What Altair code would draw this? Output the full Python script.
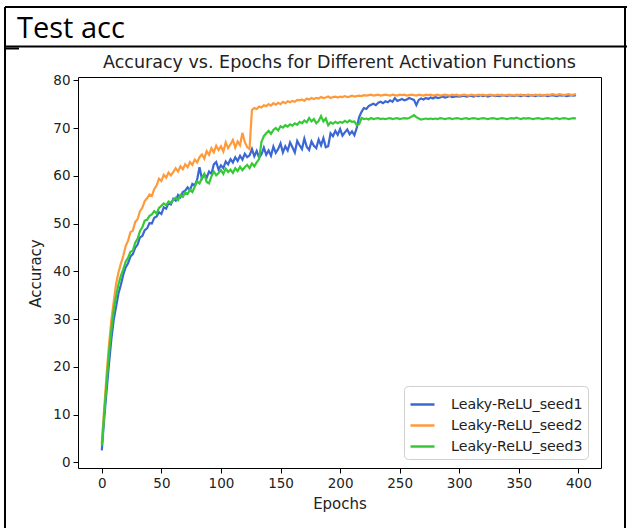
import altair as alt
import pandas as pd

# Test accuracy per epoch (sampled every 2 epochs) for three Leaky-ReLU seeds
epochs = list(range(0, 400, 2))

seed1 = [
    2.5, 9.2, 15.0, 20.6, 25.8, 29.9, 32.6, 35.4, 37.2, 39.3,
    40.8, 41.7, 43.1, 43.6, 44.9, 45.6, 47.1, 47.4, 48.6, 49.0,
    50.1, 50.0, 51.2, 51.5, 52.4, 52.0, 53.4, 53.1, 54.3, 54.0,
    55.2, 54.8, 56.0, 55.5, 56.6, 56.9, 57.6, 57.0, 58.3, 58.0,
    59.2, 61.8, 59.4, 60.3, 59.6, 60.9, 60.4, 62.4, 62.9, 61.3,
    62.2, 61.6, 63.0, 62.4, 63.5, 62.8, 63.9, 63.1, 64.2, 63.4,
    64.6, 63.9, 64.3, 65.6, 64.1, 65.2, 63.8, 64.5, 65.9, 64.4,
    65.3, 64.2, 66.1, 64.8, 65.6, 66.8, 64.9, 66.2, 65.3, 67.0,
    66.0, 64.9, 67.3, 66.4, 65.6, 67.8, 66.1, 65.4, 67.2, 66.3,
    65.8, 67.6, 66.4, 67.9, 66.0, 66.2, 68.9, 68.3, 69.4, 68.6,
    69.8, 68.4, 69.1, 69.7, 68.7, 69.3, 68.5, 70.1, 72.3, 73.4,
    74.2, 74.0, 74.6, 74.9, 75.1, 74.8, 75.3, 75.5, 75.2, 75.6,
    75.4, 75.8, 75.5, 76.3, 75.7, 75.9, 76.1, 75.8, 76.0, 76.3,
    76.1, 75.9, 74.8, 75.9, 76.2, 76.0, 76.3, 76.1, 76.4, 76.2,
    76.5, 76.3, 76.4, 76.6, 76.4, 76.5, 76.7, 76.5, 76.6, 76.7,
    76.6, 76.7, 76.8, 76.6, 76.7, 76.8, 76.6, 76.8, 76.7, 76.9,
    76.7, 76.8, 76.6, 76.8, 76.9, 76.7, 76.8, 76.7, 76.9, 76.8,
    76.7, 76.9, 76.8, 76.7, 76.9, 76.8, 76.7, 76.9, 76.8, 76.7,
    76.9, 76.8, 76.7, 76.9, 76.8, 76.8, 76.9, 76.7, 76.8, 76.9,
    76.8, 76.7, 76.9, 76.8, 76.9, 76.7, 76.8, 76.9, 76.8, 76.9,
]

seed2 = [
    4.0, 11.2, 18.3, 24.6, 29.8, 33.7, 37.4, 39.8, 41.6, 43.2,
    45.3, 46.4, 48.2, 48.5, 50.3, 50.9, 52.6, 53.3, 54.7, 55.3,
    56.1, 55.8, 57.2, 58.0, 59.4, 58.9, 60.2, 59.6, 60.7, 60.1,
    60.8, 61.6, 60.9, 62.0, 61.4, 62.4, 61.8, 62.9, 62.3, 63.4,
    62.8, 63.9, 64.5, 63.6, 65.2, 64.4, 65.8, 64.9, 66.3, 65.4,
    66.2, 65.1, 67.0, 65.8, 66.6, 67.5, 65.9, 67.2, 66.4, 69.0,
    67.1, 66.0, 65.6, 73.8, 74.2, 74.0, 74.5, 74.3, 74.8, 74.6,
    75.0, 74.7, 75.2, 74.9, 75.3, 75.0, 75.5, 75.2, 75.6, 75.4,
    75.7, 75.5, 75.9, 75.8, 76.0, 75.7, 76.2, 76.0, 76.3, 76.1,
    76.3, 76.2, 76.5, 76.3, 76.4, 76.6, 76.3, 76.5, 76.6, 76.4,
    76.6, 76.5, 76.7, 76.5, 76.6, 76.8, 76.6, 76.7, 76.8, 76.7,
    76.9, 76.8, 76.9, 77.0, 76.8, 76.9, 77.0, 76.8, 76.9, 77.0,
    76.9, 76.8, 77.0, 76.9, 76.8, 77.0, 76.9, 77.0, 76.8, 76.9,
    77.0, 76.9, 76.8, 77.0, 76.9, 76.8, 77.0, 76.9, 77.0, 76.8,
    76.9, 77.0, 76.8, 76.9, 77.0, 76.9, 76.8, 77.0, 76.9, 77.0,
    76.8, 76.9, 77.0, 76.9, 76.8, 77.0, 76.9, 76.8, 77.0, 76.9,
    77.0, 76.8, 76.9, 77.0, 76.9, 76.8, 77.0, 76.9, 77.0, 76.8,
    76.9, 77.0, 76.9, 76.8, 77.0, 76.9, 77.0, 76.8, 76.9, 77.0,
    76.9, 76.8, 77.0, 76.9, 77.0, 76.8, 76.9, 77.0, 76.9, 77.1,
    77.0, 76.9, 77.1, 77.0, 76.9, 77.0, 77.1, 76.9, 77.0, 77.1,
]

seed3 = [
    3.5, 10.3, 16.8, 22.9, 27.8, 31.9, 34.8, 37.3, 39.1, 40.4,
    42.0, 42.8, 44.1, 44.3, 46.0, 46.8, 48.4, 49.2, 50.6, 50.8,
    51.6, 51.9, 52.6, 52.1, 53.3, 53.7, 54.2, 53.8, 54.6, 54.3,
    55.0, 55.4, 54.9, 56.0, 55.6, 56.5, 56.2, 57.1, 56.6, 57.7,
    58.8, 58.4, 59.6, 60.4, 58.7, 58.4, 59.9, 60.9, 60.1, 60.6,
    61.2, 60.4, 61.5, 60.8, 61.3, 60.6, 61.6, 61.0, 61.9, 61.2,
    61.8, 62.3, 61.6, 62.6, 62.0, 62.8, 63.5, 67.1, 68.3, 68.9,
    69.4, 68.8, 69.6, 70.0, 69.5, 70.4, 70.1, 70.6, 70.3, 70.8,
    70.5, 71.0, 70.7, 71.3, 71.0, 71.6, 71.2, 72.1, 71.4, 71.9,
    71.0, 71.5, 72.5, 71.4, 72.0, 70.6, 71.2, 70.9, 71.3, 71.0,
    71.3, 71.1, 71.5, 71.2, 71.6, 71.3, 71.4, 70.6, 70.8, 72.1,
    71.9, 72.0, 71.8, 72.1, 71.9, 72.0, 72.1, 71.9, 72.0, 71.9,
    72.0, 72.1, 71.9, 72.0, 72.1, 71.9, 72.0, 72.1, 72.0, 72.1,
    72.4, 72.7, 72.3, 72.0, 71.8, 71.9, 72.0, 71.9, 72.0, 71.9,
    72.0, 71.9, 72.1, 72.0, 71.9, 72.0, 72.1, 71.9, 72.0, 72.1,
    72.0, 71.9, 72.0, 72.1, 71.9, 72.0, 72.1, 72.0, 71.9, 72.0,
    72.1, 72.0, 71.9, 72.0, 72.1, 72.0, 71.9, 72.0, 72.1, 72.0,
    71.9, 72.0, 72.1, 72.0, 72.2, 72.0, 71.9, 72.1, 72.0, 72.1,
    72.0, 71.9, 72.0, 72.1, 72.0, 71.9, 72.0, 72.1, 72.0, 71.9,
    72.0, 72.1, 71.9, 72.0, 72.1, 72.0, 71.9, 72.0, 72.1, 72.0,
]

series_names = ["Leaky-ReLU_seed1", "Leaky-ReLU_seed2", "Leaky-ReLU_seed3"]
series_colors = ["#3a67d4", "#ff9a3b", "#36c936"]
x_ticks = [0, 50, 100, 150, 200, 250, 300, 350, 400]
y_ticks = [0, 10, 20, 30, 40, 50, 60, 70, 80]
plot_title = "Accuracy vs. Epochs for Different Activation Functions"
slide_caption = "Test acc"

rows = []
for name, vals in zip(series_names, [seed1, seed2, seed3]):
    for e, v in zip(epochs, vals):
        rows.append({"epoch": e, "acc": v, "run": name})
df = pd.DataFrame(rows)

FONT = "DejaVu Sans"
W, H = 523, 391

lines = alt.Chart(df).mark_line(strokeWidth=2.2).encode(
    x=alt.X(
        "epoch:Q",
        title="Epochs",
        scale=alt.Scale(domain=[-20, 419], nice=False, zero=False),
        axis=alt.Axis(values=x_ticks, titleY=35, titleBaseline="middle"),
    ),
    y=alt.Y(
        "acc:Q",
        title="Accuracy",
        scale=alt.Scale(domain=[-1.2, 80.7], nice=False, zero=False),
        axis=alt.Axis(values=y_ticks, titleX=-43, titleY=196, titleBaseline="middle"),
    ),
    color=alt.Color(
        "run:N",
        scale=alt.Scale(domain=series_names, range=series_colors),
        legend=alt.Legend(
            title=None,
            orient="none",
            legendX=326,
            legendY=309,
            symbolType="stroke",
            symbolStrokeWidth=2.5,
            symbolSize=576,
            labelFont=FONT,
            labelFontSize=14.2,
            labelColor="#222",
            labelOffset=15,
            fillColor="white",
            strokeColor="#d0d0d0",
            cornerRadius=4,
            padding=5,
            rowPadding=-2.5,
        ),
    ),
)

one = pd.DataFrame({"k": [0]})


def rule(**enc):
    return alt.Chart(one).mark_rule(color="black", strokeWidth=2).encode(
        **{k: alt.value(v) for k, v in enc.items()}
    )


# Slide frame: outer border, header separator and a small stray dash
frame = [
    rule(x=-73, x2=549, y=-70),
    rule(x=-73, x2=549, y=-30.5),
    rule(x=-73, y=-70, y2=452),
    rule(x=547, y=-70, y2=452),
    rule(x=-73, x2=-59, y=-28.5),
]

caption = alt.Chart(pd.DataFrame({"t": [slide_caption]})).mark_text(
    font="Open Sans", fontSize=29, color="black", align="left", baseline="alphabetic"
).encode(x=alt.value(-61), y=alt.value(-39), text="t:N")

title = alt.Chart(pd.DataFrame({"t": [plot_title]})).mark_text(
    font=FONT, fontSize=17.5, color="#222", align="center", baseline="alphabetic"
).encode(x=alt.value(W / 2), y=alt.value(-9), text="t:N")

chart = alt.layer(lines, *frame, caption, title).properties(
    width=W,
    height=H,
    padding={"left": 78, "top": 77, "right": 27, "bottom": 60},
    autosize=alt.AutoSizeParams(type="none"),
    background="white",
).configure_view(
    stroke="black", strokeWidth=1
).configure_axis(
    grid=False,
    domain=False,
    ticks=True,
    tickSize=5,
    tickColor="black",
    tickWidth=1,
    labelFont=FONT,
    labelFontSize=13.5,
    labelColor="#222",
    labelPadding=3,
    titleFont=FONT,
    titleFontSize=15,
    titleFontWeight="normal",
    titleColor="#222",
)

chart.save("out.html", embed_options={"renderer": "svg", "actions": False})
